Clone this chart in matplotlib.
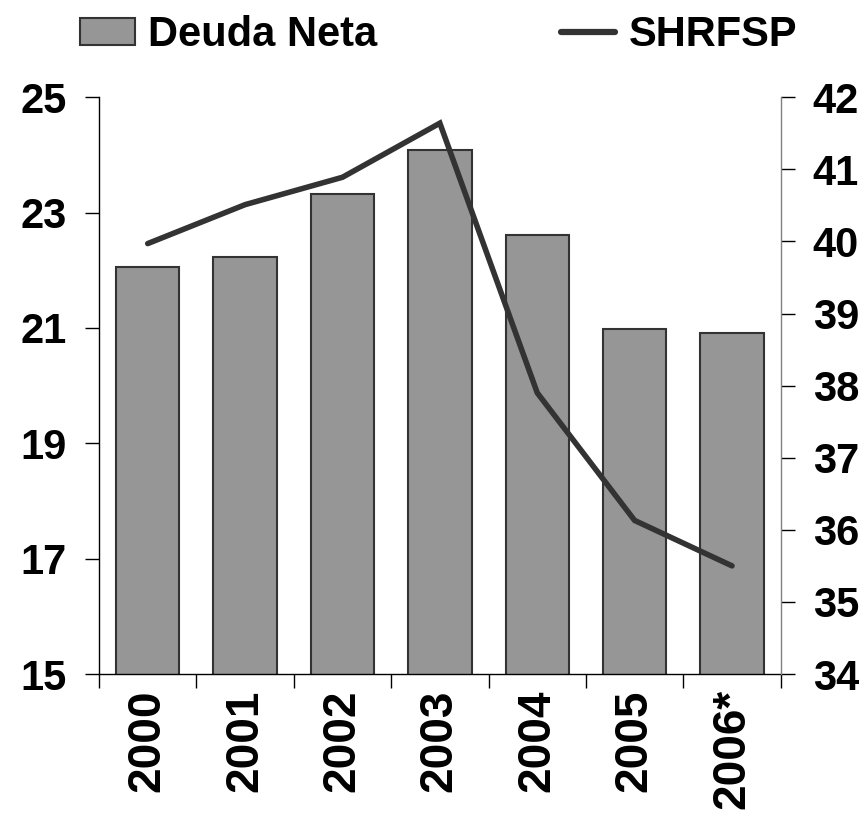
import matplotlib
matplotlib.use('Agg')
import matplotlib.pyplot as plt
from matplotlib.patches import Patch
from matplotlib.lines import Line2D

# datos
years = ['2000', '2001', '2002', '2003', '2004', '2005', '2006*']
deudaNeta = [22.05, 22.23, 23.33, 24.09, 22.61, 20.98, 20.91]
shrfsp = [39.97, 40.51, 40.89, 41.64, 37.90, 36.13, 35.50]

leftTicks = [15, 17, 19, 21, 23, 25]
rightTicks = [34, 35, 36, 37, 38, 39, 40, 41, 42]

plt.rcParams['font.family'] = ['Liberation Sans', 'DejaVu Sans']
plt.rcParams['font.weight'] = 'bold'

fig = plt.figure(figsize=(8.64, 8.17), dpi=100)
ax = fig.add_axes([0.1146, 0.175, 0.789, 0.706])

x = list(range(len(years)))
ax.bar(x, deudaNeta, width=0.65, color='#969696', edgecolor='#333333',
       linewidth=1.5, zorder=2)
ax.set_ylim(15, 25)
ax.set_xlim(-0.5, len(years) - 0.5)
ax.set_yticks(leftTicks)
ax.tick_params(axis='y', direction='out', length=10, width=1,
               labelsize=30, pad=13)

# ticks del eje x en los limites de cada categoria, etiquetas al centro
ax.set_xticks([i - 0.5 for i in range(len(years) + 1)])
ax.set_xticklabels([])
ax.tick_params(axis='x', which='major', direction='out', length=10, width=1)
ax.set_xticks(x, minor=True)
ax.set_xticklabels(years, minor=True, rotation=90, fontsize=33,
                   fontweight='bold')
ax.tick_params(axis='x', which='minor', length=0, pad=11)

for s in ['top', 'right']:
    ax.spines[s].set_visible(False)
ax.spines['left'].set_linewidth(1)
ax.spines['bottom'].set_linewidth(1)

ax2 = ax.twinx()
ax2.plot(x, shrfsp, color='#333333', linewidth=4,
         solid_capstyle='round', solid_joinstyle='miter', zorder=3)
ax2.set_ylim(34, 42)
ax2.set_yticks(rightTicks)
ax2.tick_params(axis='y', direction='out', length=10, width=1,
                labelsize=30, pad=13)
for s in ['top', 'left', 'bottom']:
    ax2.spines[s].set_visible(False)
ax2.spines['right'].set_color('#808080')
ax2.spines['right'].set_linewidth(1)

for lab in ax.get_yticklabels() + ax2.get_yticklabels():
    lab.set_fontweight('bold')

# leyenda arriba
handles = [
    Patch(facecolor='#969696', edgecolor='#333333', linewidth=1.5),
    Line2D([0], [0], color='#333333', linewidth=4.5, solid_capstyle='round'),
]
fig.legend(handles, ['Deuda Neta', 'SHRFSP'], loc='center left',
           bbox_to_anchor=(0.093, 0.957), ncol=2, frameon=False,
           fontsize=30, handlelength=1.3, handleheight=0.65,
           handletextpad=0.33, columnspacing=4.4, borderpad=0,
           borderaxespad=0)

fig.savefig('out.png', dpi=100)
plt.close()
